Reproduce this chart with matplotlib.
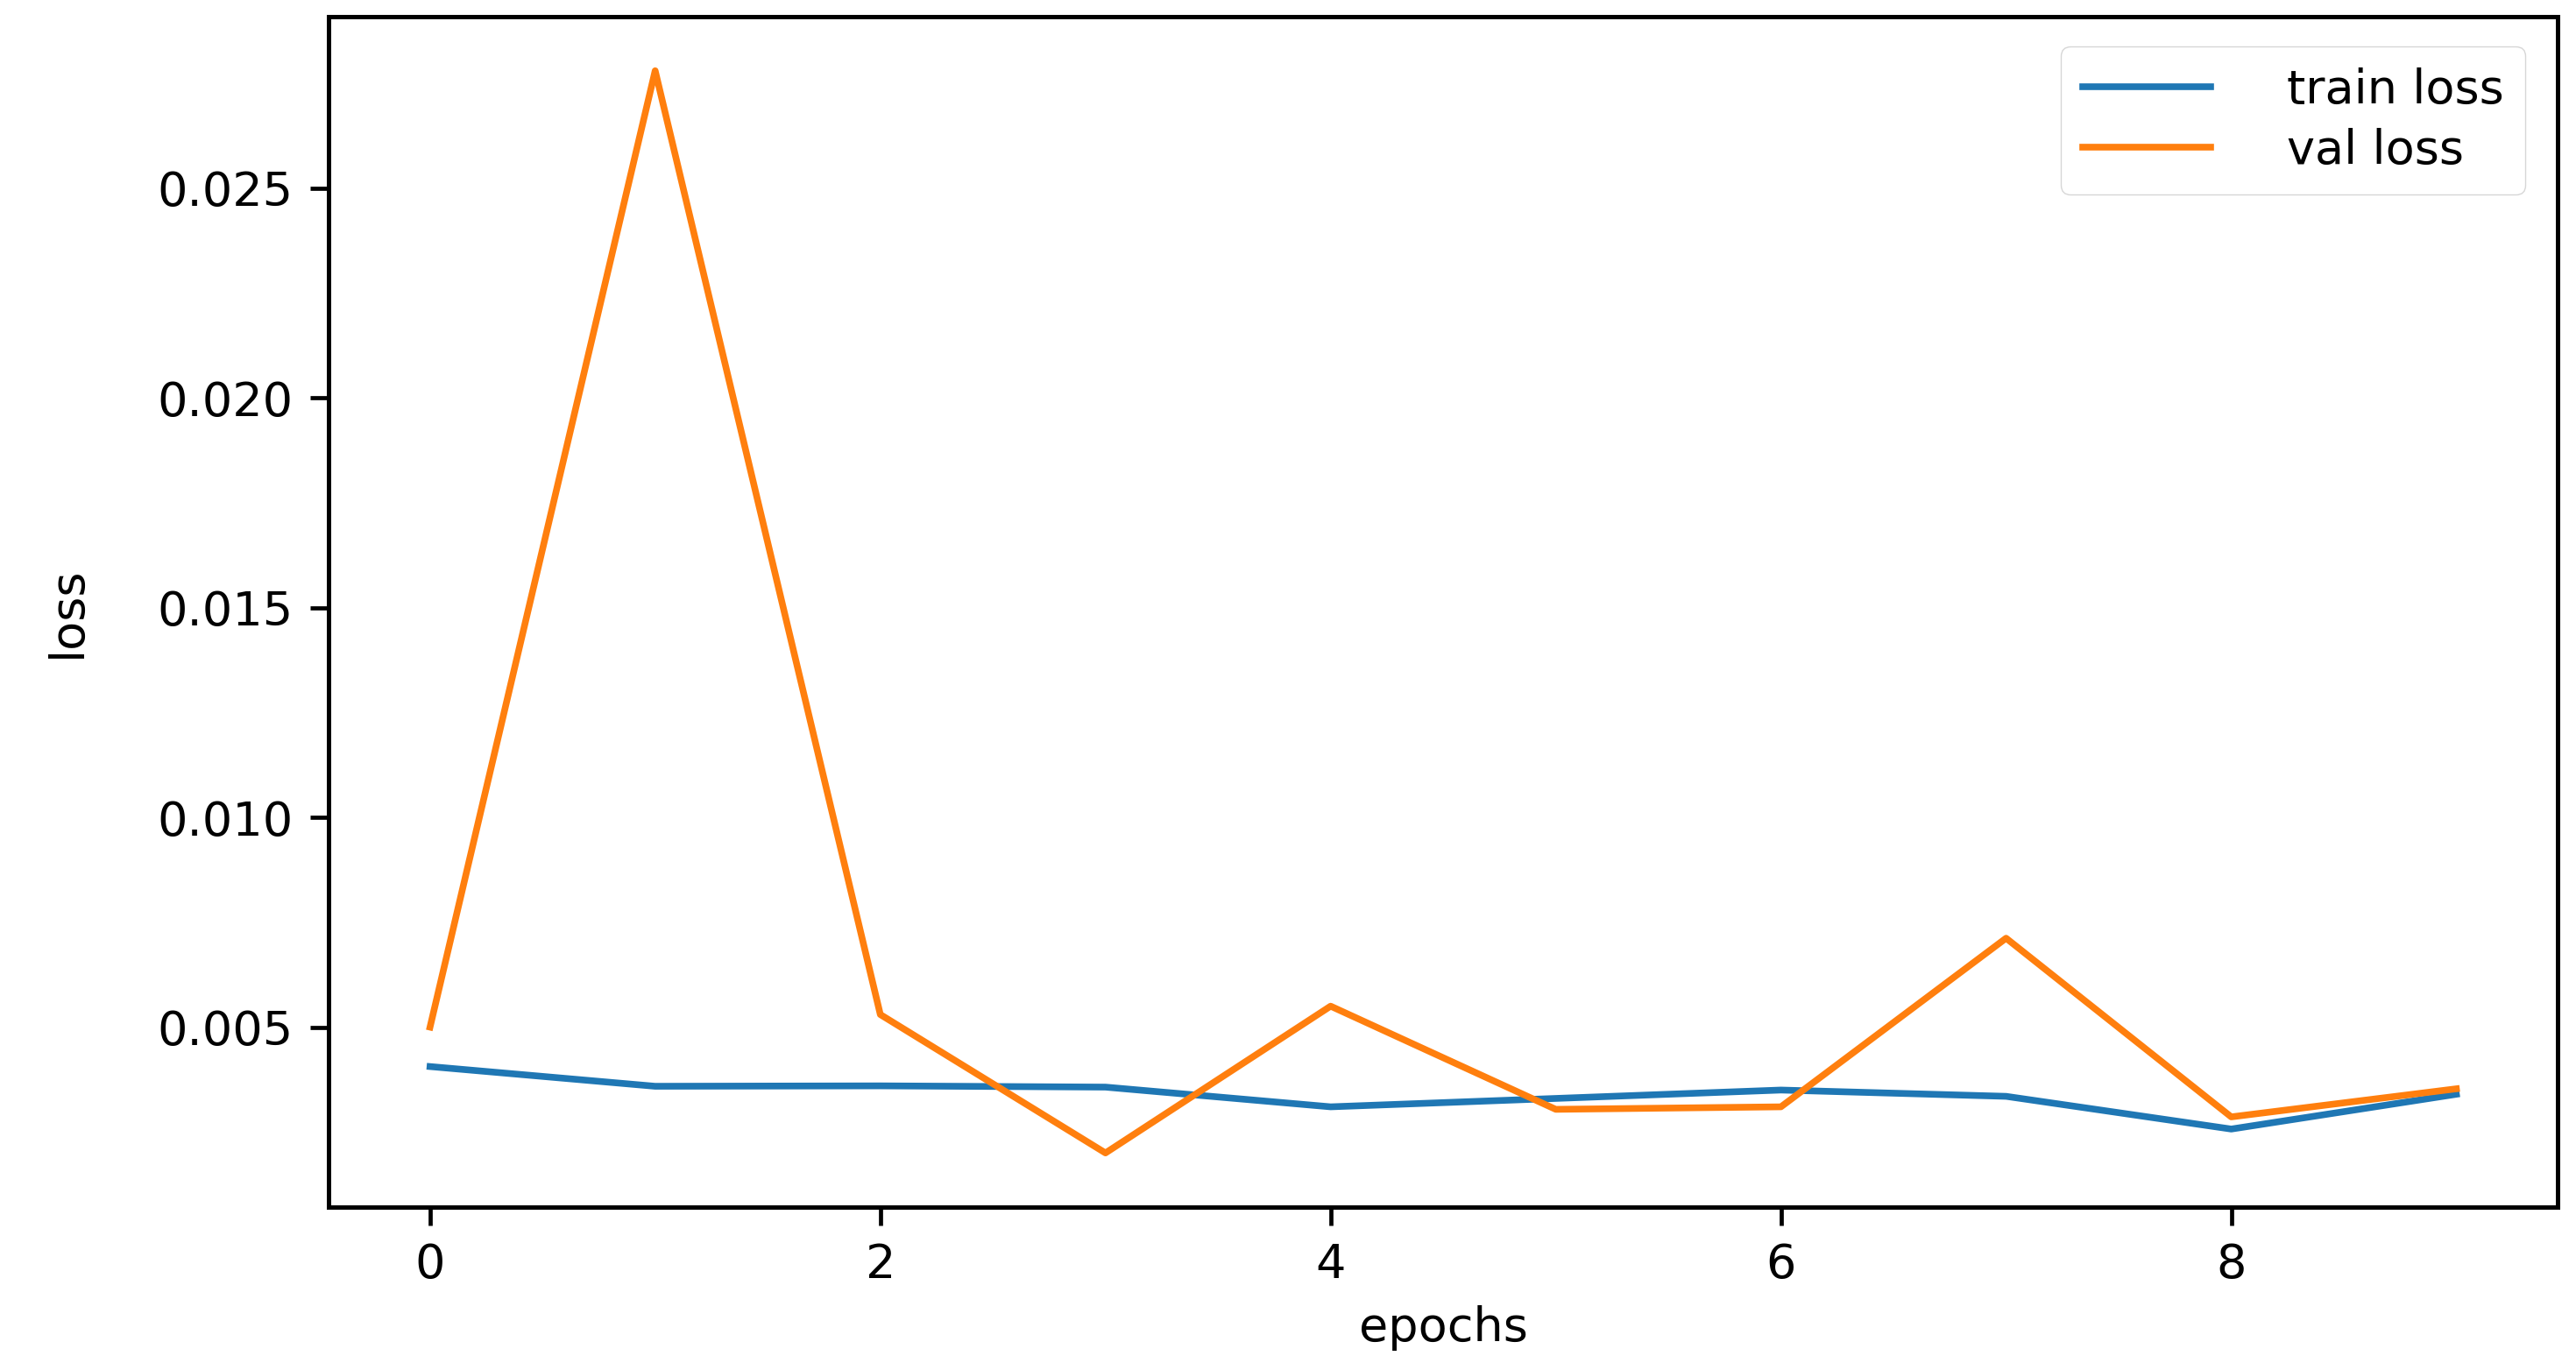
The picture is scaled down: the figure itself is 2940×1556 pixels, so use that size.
import matplotlib.pyplot as plt
import numpy as np

# loss per epoch
epochs = np.arange(10)
train_loss = [0.00406, 0.00359, 0.00360, 0.00357, 0.00310, 0.00330, 0.00350, 0.00335, 0.00257, 0.00340]
val_loss = [0.00500, 0.02780, 0.00530, 0.00200, 0.00550, 0.00304, 0.00310, 0.00712, 0.00286, 0.00353]

plt.rcParams['font.size'] = 39
plt.rcParams['axes.linewidth'] = 3.6

fig = plt.figure(figsize=(29.4, 15.56), dpi=100)
ax = fig.add_axes([0.1276, 0.1144, 0.8653, 0.8734])
ax.plot(epochs, train_loss, color='#1f77b4', lw=5.5, label='train loss')
ax.plot(epochs, val_loss, color='#ff7f0e', lw=5.5, label='val loss')
ax.set_xlabel('epochs', labelpad=14)
ax.set_ylabel('loss', labelpad=55)
ax.set_yticks([0.005, 0.010, 0.015, 0.020, 0.025])
ax.tick_params(length=15, width=3.4, pad=14)
ax.legend(loc='upper right', handlelength=2.7, handletextpad=1.6, borderpad=0.45,
          labelspacing=0.3, framealpha=0.8, bbox_to_anchor=(0.996, 0.995))
fig.savefig('out.png', dpi=100)
